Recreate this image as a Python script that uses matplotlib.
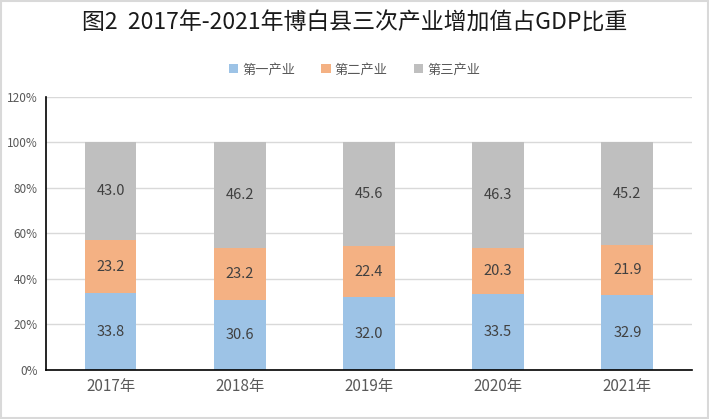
import matplotlib
matplotlib.use('Agg')
import matplotlib.pyplot as plt
from matplotlib.patches import Rectangle

plt.rcParams['font.family'] = ['Noto Sans CJK SC', 'DejaVu Sans']

years = ['2017年', '2018年', '2019年', '2020年', '2021年']
primary = [33.8, 30.6, 32.0, 33.5, 32.9]
secondary = [23.2, 23.2, 22.4, 20.3, 21.9]
tertiary = [43.0, 46.2, 45.6, 46.3, 45.2]
series_names = ['第一产业', '第二产业', '第三产业']
colors = ['#9DC3E6', '#F4B183', '#BFBFBF']

fig = plt.figure(figsize=(7.09, 4.19), dpi=100)
ax = fig.add_axes([0.0649, 0.117, 0.911, 0.6516])

x = list(range(len(years)))
bottom = [0.0] * len(years)
for vals, name, col in zip([primary, secondary, tertiary], series_names, colors):
    bars = ax.bar(x, vals, width=0.4, bottom=bottom, color=col, label=name, zorder=2)
    for b, v in zip(bars, vals):
        ax.text(b.get_x() + b.get_width() / 2, b.get_y() + b.get_height() / 2,
                f'{v:.1f}', ha='center', va='center', fontsize=10.5, color='#404040', zorder=3)
    bottom = [b0 + v for b0, v in zip(bottom, vals)]

ax.set_xlim(-0.5, len(years) - 0.5)
ax.set_ylim(0, 120)
ax.set_yticks(range(0, 121, 20))
ax.set_yticklabels([f'{t}%' for t in range(0, 121, 20)])
ax.set_xticks(x)
ax.set_xticklabels(years)
ax.tick_params(axis='y', length=0, labelsize=8.5, colors='#595959', pad=6)
ax.tick_params(axis='x', length=0, labelsize=11, colors='#595959', pad=6)
ax.grid(axis='y', color='#D9D9D9', linewidth=1, zorder=0)
for s in ['top', 'right']:
    ax.spines[s].set_visible(False)
for s in ['left', 'bottom']:
    ax.spines[s].set_color('black')
    ax.spines[s].set_linewidth(1.2)

fig.text(0.5, 0.945, '图2  2017年-2021年博白县三次产业增加值占GDP比重',
         ha='center', va='center', fontsize=16.5, color='#1a1a1a')
fig.legend(loc='center', bbox_to_anchor=(0.5, 0.833), ncol=3, frameon=False,
           fontsize=9.5, handlelength=0.7, handleheight=0.7, handletextpad=0.3,
           columnspacing=2.0, labelcolor='#595959')

fig.patches.append(Rectangle((0.002, 0.003), 0.996, 0.994, transform=fig.transFigure,
                             fill=False, edgecolor='#D9D9D9', linewidth=1.5))

fig.savefig('out.png', dpi=100)
